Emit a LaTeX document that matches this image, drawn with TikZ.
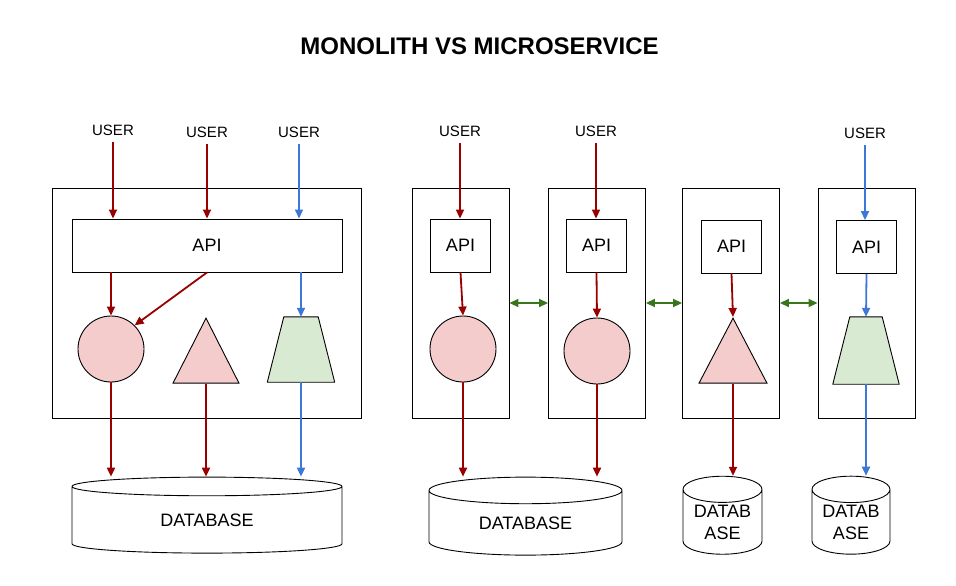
\documentclass[tikz,border=0pt]{standalone}
\usepackage{fontspec}
\setmainfont{Liberation Sans}
\usetikzlibrary{shapes.geometric,arrows.meta}
\definecolor{flowred}{HTML}{990000}
\definecolor{flowblue}{HTML}{3C78D8}
\definecolor{linkgreen}{HTML}{38761D}
\definecolor{pinkfill}{HTML}{F4CCCC}
\definecolor{greenfill}{HTML}{D9EAD3}
\tikzset{
	userlabel/.style={inner sep=0pt,outer sep=7pt,font=\fontsize{15}{18}\selectfont},
	apibox/.style={draw,line width=0.9pt,minimum height=53pt,inner sep=0pt,font=\fontsize{18}{21}\selectfont},
	svcbox/.style={draw,line width=0.9pt,minimum width=97pt,minimum height=230pt,inner sep=0pt},
	dbcyl/.style={draw,line width=0.9pt,cylinder,shape border rotate=90,minimum height=76pt,inner sep=0pt,align=center,font=\fontsize{18}{22}\selectfont},
	ball/.style={draw,line width=0.9pt,circle,fill=pinkfill,minimum size=66pt,inner sep=0pt},
	cone/.style={draw,line width=0.9pt,isosceles triangle,shape border rotate=90,isosceles triangle stretches,fill=pinkfill,minimum width=66pt,minimum height=65pt,inner sep=0pt,anchor=apex},
	bucketbox/.style={minimum width=67pt,minimum height=65pt,inner sep=0pt},
	bucket/.style={draw,line width=0.9pt,fill=greenfill,line join=round},
	redflow/.style={flowred,line width=1.8pt,-{Triangle[length=9pt,width=8pt]}},
	blueflow/.style={flowblue,line width=1.8pt,-{Triangle[length=9pt,width=8pt]}},
	greenlink/.style={linkgreen,line width=1.8pt,{Triangle[length=9pt,width=8pt]}-{Triangle[length=9pt,width=8pt]}}
}

\begin{document}
\begin{tikzpicture}[x=1pt,y=-1pt]
	\useasboundingbox (0,0) rectangle (956,586);
	\node[font=\fontsize{24}{28}\selectfont\bfseries] (title) at (479.5,46) {MONOLITH VS MICROSERVICE};
	
	% monolith
	\node[svcbox,minimum width=309pt] (mono) at (206.5,303) {};
	\node[apibox,minimum width=270pt] (mapi) at (207,245.5) {API};
	\node[ball] (mcirc) at (111,349) {};
	\node[cone] (mtri) at (206,317) {};
	\node[bucketbox] (mtrap) at (301,349.5) {};
	\draw[bucket] ([xshift=16.5pt]mtrap.north west) -- ([xshift=-16.5pt]mtrap.north east) -- (mtrap.south east) -- (mtrap.south west) -- cycle;
	\node[dbcyl,minimum width=270pt,shape aspect=0.2] (mdb) at (207,520) {DATABASE};
	\node[userlabel] (mu1) at (113,130) {USER};
	\node[userlabel] (mu2) at (207,132) {USER};
	\node[userlabel] (mu3) at (299,132) {USER};
	
	\draw[redflow] (mu1.south) -- (mu1.south |- mapi.north);
	\draw[redflow] (mu2.south) -- (mu2.south |- mapi.north);
	\draw[blueflow] (mu3.south) -- (mu3.south |- mapi.north);
	\draw[redflow] (mcirc |- mapi.south) -- (mcirc.north);
	\draw[redflow] (mapi.south) -- (mcirc.north east);
	\draw[blueflow] (mtrap |- mapi.south) -- (mtrap.north);
	\draw[redflow] (mcirc.south) -- (mcirc.south |- mdb.north);
	\draw[redflow] (mtri.lower side) -- (mtri.lower side |- mdb.north);
	\draw[blueflow] (mtrap.south) -- (mtrap.south |- mdb.north);
	
	% microservices
	\node[svcbox] (svc1) at (460.5,303) {};
	\node[svcbox] (svc2) at (597,303) {};
	\node[svcbox] (svc3) at (731,303) {};
	\node[svcbox] (svc4) at (866.5,303) {};
	\node[apibox,minimum width=60pt] (api1) at (460.5,245.5) {API};
	\node[apibox,minimum width=60pt] (api2) at (596.5,245.5) {API};
	\node[apibox,minimum width=60pt] (api3) at (731.5,246.5) {API};
	\node[apibox,minimum width=60pt] (api4) at (866.5,247) {API};
	\node[ball] (circ1) at (463,349) {};
	\node[ball] (circ2) at (597,351) {};
	\node[cone,minimum width=68pt] (tri3) at (733,317) {};
	\node[bucketbox,minimum width=66pt,minimum height=67pt] (trap4) at (866,350.5) {};
	\draw[bucket] ([xshift=17pt]trap4.north west) -- ([xshift=-17pt]trap4.north east) -- (trap4.south east) -- (trap4.south west) -- cycle;
	\node[dbcyl,minimum width=193pt,minimum height=78pt,shape aspect=0.285] (db12) at (525.5,523) {DATABASE};
	\node[dbcyl,minimum width=79pt,minimum height=78pt,shape aspect=0.456] (db3) at (722.5,522) {DATAB\\ASE};
	\node[dbcyl,minimum width=78pt,minimum height=78pt,shape aspect=0.46] (db4) at (851,522) {DATAB\\ASE};
	\node[userlabel] (u1) at (460,131) {USER};
	\node[userlabel] (u2) at (596,131) {USER};
	\node[userlabel] (u4) at (865,133) {USER};
	
	\draw[redflow] (u1.south) -- (u1.south |- api1.north);
	\draw[redflow] (u2.south) -- (u2.south |- api2.north);
	\draw[blueflow] (u4.south) -- (u4.south |- api4.north);
	\draw[redflow] (api1.south) -- (circ1.north);
	\draw[redflow] (api2.south) -- (circ2.north);
	\draw[redflow] (api3.south) -- (tri3.apex);
	\draw[blueflow] (api4.south) -- (trap4.north);
	\draw[redflow] (circ1.south) -- (circ1.south |- db12.north);
	\draw[redflow] (circ2.south) -- (circ2.south |- db12.north);
	\draw[redflow] (tri3.lower side) -- (tri3.lower side |- db3.north);
	\draw[blueflow] (trap4.south) -- (trap4.south |- db4.north);
	
	\draw[greenlink] (svc1.east) -- (svc2.west);
	\draw[greenlink] (svc2.east) -- (svc3.west);
	\draw[greenlink] (svc3.east) -- (svc4.west);
\end{tikzpicture}
\end{document}
